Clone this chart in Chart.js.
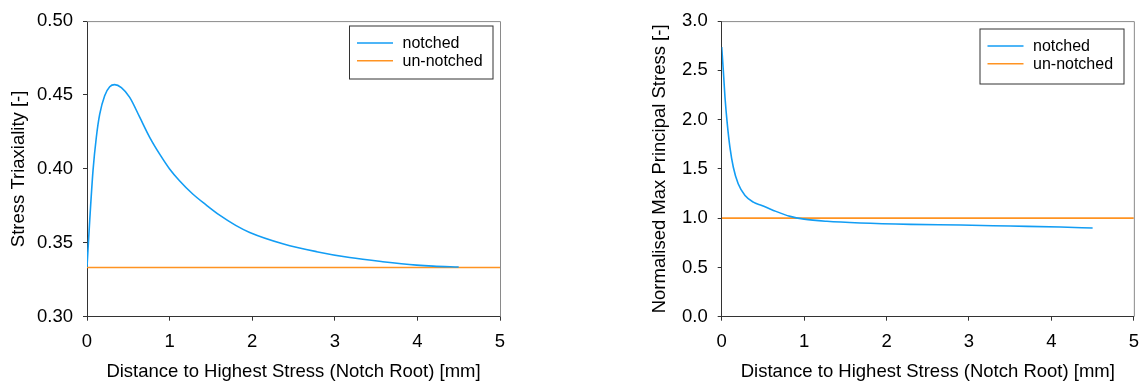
<!DOCTYPE html>
<html>
<head>
<meta charset="utf-8">
<script src="https://cdn.jsdelivr.net/npm/chart.js@4.4.0/dist/chart.umd.min.js"></script>
<style>
  html, body { margin: 0; background: #fff; overflow: hidden; }
  .wrap { position: absolute; top: 0; height: 384px; overflow: hidden; }
</style>
</head>
<body>
<div class="wrap" style="left:0;width:570px"><canvas id="triax" width="570" height="384"></canvas></div>
<div class="wrap" style="left:570px;width:571px"><canvas id="stress" width="579" height="384"></canvas></div>
<script>
// distance from notch root [mm]
const triaxDist = [0, 0.033, 0.073, 0.113, 0.154, 0.214, 0.275, 0.335, 0.416, 0.517, 0.638, 0.759, 0.88, 1.0, 1.12, 1.28, 1.445, 1.61, 1.8, 1.97, 2.38, 2.78, 3.18, 3.58, 3.99, 4.19, 4.5];
const triaxNotched = [0.3337, 0.3652, 0.399, 0.4214, 0.437, 0.4495, 0.4556, 0.457, 0.455, 0.4484, 0.435, 0.4214, 0.410, 0.400, 0.392, 0.383, 0.3755, 0.3685, 0.3618, 0.357, 0.3492, 0.344, 0.34, 0.3372, 0.3349, 0.3342, 0.3336];
const triaxUnDist = [0, 5];
const triaxUnnotched = [0.3333, 0.3333];

const stressDist = [0, 0.02, 0.04, 0.068, 0.1, 0.141, 0.2, 0.283, 0.384, 0.486, 0.627, 0.83, 1.0, 1.276, 1.68, 2.29, 2.9, 3.5, 4.11, 4.5];
const stressNotched = [2.737, 2.494, 2.224, 1.955, 1.719, 1.517, 1.349, 1.23, 1.163, 1.129, 1.079, 1.018, 0.99, 0.968, 0.951, 0.937, 0.930, 0.920, 0.910, 0.900];
const stressUnDist = [0, 5];
const stressUnnotched = [1.0, 1.0];

const xTitle = 'Distance to Highest Stress (Notch Root) [mm]';
const FONT = '"Liberation Sans", Arial, sans-serif';
const BLUE = '#129df4';
const ORANGE = '#ff9322';

function pts(xs, ys) {
    return xs.map((x, i) => ({ x: x, y: ys[i] }));
}

// grey frame on top/right plus boxed legend
const framePlugin = {
    id: 'frameLegend',
    afterDraw(chart, args, opts) {
        const ctx = chart.ctx;
        const a = chart.chartArea;
        ctx.save();
        ctx.strokeStyle = '#8a8a8a';
        ctx.lineWidth = 1;
        ctx.beginPath();
        ctx.moveTo(a.left, a.top + 0.5);
        ctx.lineTo(a.right + 0.5, a.top + 0.5);
        ctx.lineTo(a.right + 0.5, a.bottom);
        ctx.stroke();

        const lg = opts.box;
        ctx.fillStyle = '#fff';
        ctx.fillRect(lg.x, lg.y, lg.w, lg.h);
        ctx.strokeStyle = '#333';
        ctx.strokeRect(lg.x + 0.5, lg.y + 0.5, lg.w, lg.h);
        ctx.font = '16px ' + FONT;
        ctx.textBaseline = 'middle';
        chart.data.datasets.forEach((ds, i) => {
            const yy = lg.y + 17.5 + i * 17.7;
            ctx.strokeStyle = ds.borderColor;
            ctx.lineWidth = 1.6;
            ctx.beginPath();
            ctx.moveTo(lg.x + 8, yy);
            ctx.lineTo(lg.x + 44, yy);
            ctx.stroke();
            ctx.fillStyle = '#000';
            ctx.fillText(ds.label, lg.x + 53.5, yy + 0.5);
        });
        ctx.restore();
    }
};

function makeChart(id, xsN, ysN, xsU, ysU, yMin, yMax, yStep, dec, yLabel, yWidth, yTitlePad, padRight, box) {
    return new Chart(document.getElementById(id), {
        type: 'line',
        data: {
            datasets: [{
                label: 'notched',
                data: pts(xsN, ysN),
                borderColor: BLUE,
                borderWidth: 1.6,
                pointRadius: 0,
                cubicInterpolationMode: 'monotone',
                fill: false
            }, {
                label: 'un-notched',
                data: pts(xsU, ysU),
                borderColor: ORANGE,
                borderWidth: 1.6,
                pointRadius: 0,
                fill: false
            }]
        },
        options: {
            responsive: false,
            animation: false,
            layout: { padding: { top: 20, right: padRight, bottom: 0, left: 0 } },
            plugins: {
                legend: { display: false },
                tooltip: { enabled: false },
                frameLegend: { box: box }
            },
            scales: {
                x: {
                    type: 'linear',
                    min: 0,
                    max: 5,
                    ticks: { stepSize: 1, color: '#000', padding: 10, font: { family: FONT, size: 18.5 } },
                    grid: { drawOnChartArea: false, tickLength: 4, color: '#333' },
                    border: { color: '#333' },
                    title: { display: true, text: xTitle, color: '#000', padding: { top: 0, bottom: 1 }, font: { family: FONT, size: 18.5 } },
                    afterFit(s) { s.height = 67.3; }
                },
                y: {
                    min: yMin,
                    max: yMax,
                    ticks: {
                        stepSize: yStep,
                        color: '#000',
                        padding: 10,
                        font: { family: FONT, size: 18.5 },
                        callback: v => v.toFixed(dec)
                    },
                    grid: { drawOnChartArea: false, tickLength: 4, color: '#333' },
                    border: { color: '#333' },
                    title: { display: true, text: yLabel, color: '#000', padding: { top: yTitlePad, bottom: 0 }, font: { family: FONT, size: 18.5 } },
                    afterFit(s) { s.width = yWidth; }
                }
            }
        },
        plugins: [framePlugin]
    });
}

makeChart('triax', triaxDist, triaxNotched, triaxUnDist, triaxUnnotched,
    0.3, 0.5, 0.05, 2, 'Stress Triaxiality [-]', 87, 8, 70,
    { x: 349, y: 25.5, w: 143.5, h: 53 });

makeChart('stress', stressDist, stressNotched, stressUnDist, stressUnnotched,
    0, 3, 0.5, 1, 'Normalised Max Principal Stress [-]', 151.7, 79, 0,
    { x: 409.5, y: 28.5, w: 144, h: 55 });
</script>
</body>
</html>
